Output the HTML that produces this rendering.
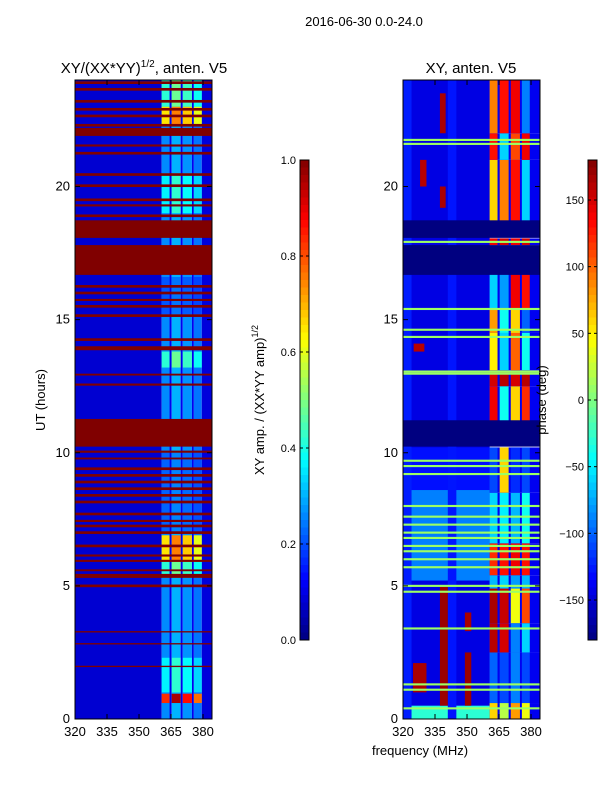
<!DOCTYPE html>
<html><head><meta charset="utf-8">
<style>
body{margin:0;background:#fff;width:600px;height:800px;overflow:hidden;font-family:"Liberation Sans",sans-serif;}
svg text{font-family:"Liberation Sans","DejaVu Sans",sans-serif;fill:#000;}
</style></head>
<body>
<svg id="fig" width="600" height="800" viewBox="0 0 600 800" xmlns="http://www.w3.org/2000/svg">
<text x="364" y="26" font-size="13" text-anchor="middle">2016-06-30 0.0-24.0</text>
<text x="144" y="73" font-size="15" text-anchor="middle">XY/(XX*YY)<tspan font-size="10" dy="-6">1/2</tspan><tspan dy="6">, anten. V5</tspan></text>
<text x="471" y="73" font-size="15" text-anchor="middle">XY, anten. V5</text>
<text transform="translate(45,400) rotate(-90)" font-size="13" text-anchor="middle">UT (hours)</text>
<text transform="translate(264,400) rotate(-90)" font-size="13" text-anchor="middle">XY amp. / (XX*YY amp)<tspan font-size="9" dy="-6">1/2</tspan></text>
<text x="420" y="755" font-size="13" text-anchor="middle">frequency (MHz)</text>
<g id="left"></g>
<g id="right"></g>
<text transform="translate(546,400) rotate(-90)" font-size="13" text-anchor="middle">phase (deg)</text>
<g id="axes"></g>
</svg>
<script>
// ---- data ----
const xTicks=[320,335,350,365,380];
const yTicks=[0,5,10,15,20];
const ampTicks=[0.0,0.2,0.4,0.6,0.8,1.0];
const phaseTicks=[-150,-100,-50,0,50,100,150];
// left: frequency bands [fLo,fHi,base]
const ampFreqBands=[[320,360.6,0.08],[360.6,364.3,0.26],[364.3,365.3,0.11],[365.3,369.5,0.3],[369.5,370.5,0.11],[370.5,374.8,0.27],[374.8,375.7,0.11],[375.7,379.4,0.24],[379.4,384.2,0.09]];
// hour bands with gain for high-frequency columns
const ampGain=[[0.6,0.95,3.2],[1.0,2.3,1.4],[5.9,6.9,2.5],[5.3,5.9,1.6],[13.2,13.8,1.6],[19.0,20.5,1.4],[22.3,23.0,2.5],[23.0,24,1.6],[7.0,10.0,0.85],[15.2,16.6,0.8]];
// red (saturated) bands [start,end]
const ampRed=[[18.07,18.73],[16.68,17.8],[10.23,11.27],[23.85,23.95],[23.6,23.7],[23.15,23.25],[22.85,22.95],[22.6,22.7],[22.25,22.35],[21.9,22.2],[21.5,21.58],[21.2,21.3],[20.4,20.5],[19.98,20.08],[19.45,19.55],[19.25,19.33],[18.85,18.95],[16.2,16.3],[15.95,16.05],[15.7,15.78],[15.45,15.55],[15.1,15.2],[14.2,14.3],[13.85,14.0],[12.9,12.97],[12.52,12.6],[10.0,10.08],[9.75,9.82],[9.35,9.45],[9.1,9.2],[8.85,8.95],[8.6,8.7],[8.35,8.45],[8.1,8.2],[7.65,7.75],[7.4,7.48],[7.2,7.3],[6.95,7.05],[6.45,6.55],[6.1,6.18],[5.9,5.98],[5.55,5.62],[5.3,5.45],[4.95,5.05],[3.25,3.3],[2.8,2.85],[1.95,2.0]];
// right: low-frequency phase bands [start,end,value]
const phaseLowBands=[[0,24,-145],[5.2,8.6,-90],[0,0.5,-30],[8.6,10.2,-130]];
// light stripes along frequency [fLo,fHi,value]
const phaseFreqStripes=[[320,324,-125],[341,345,-128]];
// high-frequency region rows [start,end,v1,v2,v3,v4]
const phaseHigh=[[0,0.6,60,20,80,40],[0.6,2.5,-100,-110,-90,-110],[2.5,3.6,160,150,-90,-60],[3.6,4.9,165,155,40,110],[4.9,5.4,-70,-60,-80,-70],[5.4,6.6,120,130,140,130],[6.6,8.5,-60,-50,-70,-40],[8.5,10.2,-110,60,-120,-110],[11.2,12.5,140,-40,60,120],[12.5,13.1,150,160,150,160],[13.1,14.5,50,-60,100,-40],[14.5,15.4,80,-40,60,-100],[15.4,16.7,-60,-80,140,130],[17.8,18.05,140,150,140,150],[18.7,21,60,90,130,-60],[21,22,130,-60,110,140],[22,24,90,130,140,-90]];
// red patches in low freq [fLo,fHi,start,end,value]
const phasePatches=[[324.7,331,1.0,2.1,165],[337.3,341,0.5,5.0,170],[349,352,0.5,2.5,170],[349,352,3.3,4.0,165],[328,331,20.0,21.0,160],[337.3,340,19.2,20.0,165],[337.3,340,22.0,23.5,165],[325,330,13.8,14.1,160]];
// no-data bands
const phaseNavy=[[18.07,18.73],[16.68,17.8],[10.23,11.22]];
// green (zero phase) lines
const phaseGreen=[21.75,21.6,17.92,15.4,14.62,14.35,13.05,12.97,9.7,9.5,9.2,8.0,7.6,7.3,7.0,6.8,6.5,6.3,6.0,5.7,5.0,4.78,3.4,1.3,1.1,0.4];

// ---- axes ----
const NS='http://www.w3.org/2000/svg';
const Y0=719,Y1=80,FMAX=384.2;
const yS=h=>Y0-(h/24)*(Y0-Y1);
function xS(L){return f=>L+(f-320)/(FMAX-320)*137;}
function jet(t){t=Math.max(0,Math.min(1,t));const c=v=>Math.round(255*Math.max(0,Math.min(1,v)));
 return `rgb(${c(1.5-Math.abs(4*t-3))},${c(1.5-Math.abs(4*t-2))},${c(1.5-Math.abs(4*t-1))})`;}
const pc=v=>jet((v+180)/360);
function rect(g,x1,y1,x2,y2,fill,name){const r=document.createElementNS(NS,'rect');
 r.setAttribute('x',Math.min(x1,x2));r.setAttribute('y',Math.min(y1,y2));
 r.setAttribute('width',Math.abs(x2-x1));r.setAttribute('height',Math.max(Math.abs(y2-y1),1));
 r.setAttribute('fill',fill);
 
 
 g.appendChild(r);return r;}
const hiIdx=[1,3,5,7];

// left
const gl=document.getElementById('left'),xl=xS(75);
ampFreqBands.forEach(b=>rect(gl,xl(b[0]),yS(0),xl(b[1]),yS(24),jet(b[2]),'amp-cell'));
ampGain.forEach(g=>hiIdx.forEach(i=>{const b=ampFreqBands[i];rect(gl,xl(b[0]),yS(g[0]),xl(b[1]),yS(g[1]),jet(b[2]*g[2]),'amp-cell');}));
ampRed.forEach(r=>rect(gl,xl(320),yS(r[0]),xl(FMAX),yS(r[1]),jet(1),'amp-flag-band'));

// right
const gr=document.getElementById('right'),xr=xS(403);
phaseLowBands.forEach(b=>rect(gr,xr(320),yS(b[0]),xr(360.6),yS(b[1]),pc(b[2]),'phase-cell'));
phaseFreqStripes.forEach(s=>rect(gr,xr(s[0]),yS(0),xr(s[1]),yS(24),pc(s[2]),'phase-cell'));
phaseHigh.forEach(r=>{rect(gr,xr(360.6),yS(r[0]),xr(FMAX),yS(r[1]),pc(-140),'phase-cell');
 hiIdx.forEach((i,k)=>{const b=ampFreqBands[i];rect(gr,xr(b[0]),yS(r[0]),xr(b[1]),yS(r[1]),pc(r[2+k]),'phase-cell');});});
phasePatches.forEach(p=>rect(gr,xr(p[0]),yS(p[2]),xr(p[1]),yS(p[3]),pc(p[4]),'phase-cell'));
phaseNavy.forEach(n=>rect(gr,xr(320),yS(n[0]),xr(FMAX),yS(n[1]),pc(-180),'phase-nodata-band'));
phaseGreen.forEach(h=>rect(gr,xr(320),yS(h+0.04),xr(FMAX),yS(h-0.04),pc(10),'phase-zero-line'));

// axes frames, ticks
const ga=document.getElementById('axes');
function line(x1,y1,x2,y2,name){const l=document.createElementNS(NS,'line');
 l.setAttribute('x1',x1);l.setAttribute('y1',y1);l.setAttribute('x2',x2);l.setAttribute('y2',y2);
 l.setAttribute('stroke','#000');l.setAttribute('stroke-width','1');
 
 
 ga.appendChild(l);}
function text(x,y,s,anchor,name){const t=document.createElementNS(NS,'text');
 t.setAttribute('x',x);t.setAttribute('y',y);t.setAttribute('font-size','13');t.setAttribute('text-anchor',anchor);t.textContent=s;
 
 
 ga.appendChild(t);}
[[75,xl],[403,xr]].forEach(([L,xf])=>{
 const fr=document.createElementNS(NS,'rect');
 fr.setAttribute('x',L);fr.setAttribute('y',Y1);fr.setAttribute('width',137);fr.setAttribute('height',Y0-Y1);
 fr.setAttribute('fill','none');fr.setAttribute('stroke','#000');
 
 
 ga.appendChild(fr);
 xTicks.forEach(f=>{const x=xf(f);line(x,Y0,x,Y0-5,'x-tick');line(x,Y1,x,Y1+5,'x-tick');text(x,736,String(f),'middle','x-tick-label');});
 yTicks.forEach(h=>{const y=yS(h);line(L,y,L+5,y,'y-tick');line(L+137,y,L+132,y,'y-tick');text(L-5,y+4,String(h),'end','y-tick-label');});
});
// colorbars
function cbar(L,ticks,lo,hi,fmt,name){
 const steps=64;
 for(let i=0;i<steps;i++){const t=(i+0.5)/steps;rect(ga,L,640-i*480/steps,L+9,640-(i+1)*480/steps,jet(t),name+'-segment');}
 const fr=document.createElementNS(NS,'rect');
 fr.setAttribute('x',L);fr.setAttribute('y',160);fr.setAttribute('width',9);fr.setAttribute('height',480);
 fr.setAttribute('fill','none');fr.setAttribute('stroke','#000');
 
 
 ga.appendChild(fr);
 ticks.forEach(v=>{const y=640-(v-lo)/(hi-lo)*480;line(L,y,L+3,y,name+'-tick');line(L+9,y,L+6,y,name+'-tick');
  const t=document.createElementNS(NS,'text');t.setAttribute('x',L-4);t.setAttribute('y',y+4);t.setAttribute('font-size','11');t.setAttribute('text-anchor','end');t.textContent=fmt(v);
  
  
  ga.appendChild(t);});
}
cbar(300,ampTicks,0,1,v=>v.toFixed(1),'amp-colorbar');
cbar(588,phaseTicks,-180,180,v=>v<0?'\u2212'+(-v):String(v),'phase-colorbar');
</script>
</body></html>
